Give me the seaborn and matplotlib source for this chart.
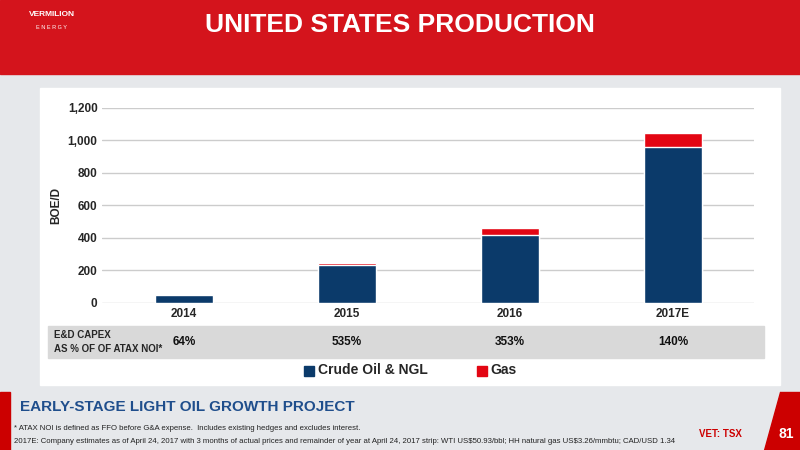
import matplotlib
matplotlib.use("Agg")
import matplotlib.pyplot as plt
import seaborn as sns
import pandas as pd
from matplotlib.patches import Rectangle, Polygon

years = ["2014", "2015", "2016", "2017E"]
crude = [48, 236, 420, 958]
gas = [0, 12, 38, 85]
capex = ["64%", "535%", "353%", "140%"]

sns.set_theme(style="white")
plt.rcParams['font.family'] = ['Liberation Sans', 'DejaVu Sans']

fig = plt.figure(figsize=(8, 4.5), dpi=100)
fig.patch.set_facecolor("#e6e8eb")
# header
fig.patches.append(Rectangle((0, 0.835), 1, 0.165, transform=fig.transFigure, color="#d4141c", zorder=0))
fig.text(0.5, 0.945, "UNITED STATES PRODUCTION", color="white", fontsize=19, fontweight="bold", ha="center", va="center")
fig.text(0.065, 0.965, "VERMILION", color="white", fontsize=6, fontweight="bold", ha="center")
fig.text(0.065, 0.935, "E N E R G Y", color="white", fontsize=4, ha="center")
# white panel
fig.patches.append(Rectangle((0.05, 0.145), 0.925, 0.66, transform=fig.transFigure, color="white", zorder=0))
# table row
fig.patches.append(Rectangle((0.06, 0.205), 0.895, 0.07, transform=fig.transFigure, color="#d9d9d9", zorder=1))
# bottom red edges
fig.patches.append(Polygon([(0, 0), (0.012, 0), (0.012, 0.13), (0, 0.13)], transform=fig.transFigure, color="#c00", zorder=0))
fig.patches.append(Polygon([(0.955, 0), (1, 0), (1, 0.13), (0.975, 0.13)], transform=fig.transFigure, color="#c00", zorder=0))

ax = fig.add_axes([0.128, 0.327, 0.815, 0.433])
ax.set_zorder(3)
ax.patch.set_alpha(0)
df = pd.DataFrame({"year": years, "total": [c + g for c, g in zip(crude, gas)], "crude": crude})
sns.barplot(data=df, x="year", y="total", color="#e30613", width=0.355, ax=ax, saturation=1)
sns.barplot(data=df, x="year", y="crude", color="#0b3a6a", width=0.355, ax=ax, saturation=1)
ax.set_ylim(0, 1200)
ax.set_xlim(-0.5, 3.5)
ax.set_yticks(range(0, 1201, 200))
ax.set_yticklabels([f"{v:,}" for v in range(0, 1201, 200)], fontsize=8.5, fontweight="bold")
ax.set_xticks(range(4))
ax.set_xticklabels(years, fontsize=8.5, fontweight="bold")
ax.set_xlabel("")
ax.set_ylabel("BOE/D", fontsize=8.5, fontweight="bold")
ax.yaxis.grid(True, color="#cccccc", lw=1)
ax.set_axisbelow(True)
for s in ax.spines.values():
    s.set_visible(False)
ax.tick_params(length=0)

fig.canvas.draw()
for i, v in enumerate(capex):
    x = fig.transFigure.inverted().transform(ax.transData.transform((i, 0)))[0]
    fig.text(x, 0.24, v, fontsize=8.5, fontweight="bold", ha="center", va="center", color="#111")
fig.text(0.068, 0.255, "E&D CAPEX", fontsize=7, fontweight="bold", va="center")
fig.text(0.068, 0.225, "AS % OF OF ATAX NOI*", fontsize=7, fontweight="bold", va="center")

fig.patches.append(Rectangle((0.38, 0.165), 0.013, 0.022, transform=fig.transFigure, color="#0b3a6a", zorder=2))
fig.text(0.397, 0.177, "Crude Oil & NGL", fontsize=10, fontweight="bold", va="center")
fig.patches.append(Rectangle((0.596, 0.165), 0.013, 0.022, transform=fig.transFigure, color="#e30613", zorder=2))
fig.text(0.613, 0.177, "Gas", fontsize=10, fontweight="bold", va="center")

fig.text(0.025, 0.095, "EARLY-STAGE LIGHT OIL GROWTH PROJECT", fontsize=11, fontweight="bold", color="#1f4e8c", va="center")
fig.text(0.018, 0.048, "* ATAX NOI is defined as FFO before G&A expense.  Includes existing hedges and excludes interest.", fontsize=5.6, color="#222", va="center")
fig.text(0.018, 0.018, "2017E: Company estimates as of April 24, 2017 with 3 months of actual prices and remainder of year at April 24, 2017 strip: WTI US\\$50.93/bbl; HH natural gas US\\$3.26/mmbtu; CAD/USD 1.34", fontsize=5.6, color="#222", va="center")
fig.text(0.9, 0.035, "VET: TSX", fontsize=7, fontweight="bold", color="#c00", ha="center", va="center")
fig.text(0.983, 0.035, "81", fontsize=10, fontweight="bold", color="white", ha="center", va="center")
fig.savefig("out.png", dpi=100, facecolor=fig.get_facecolor())
